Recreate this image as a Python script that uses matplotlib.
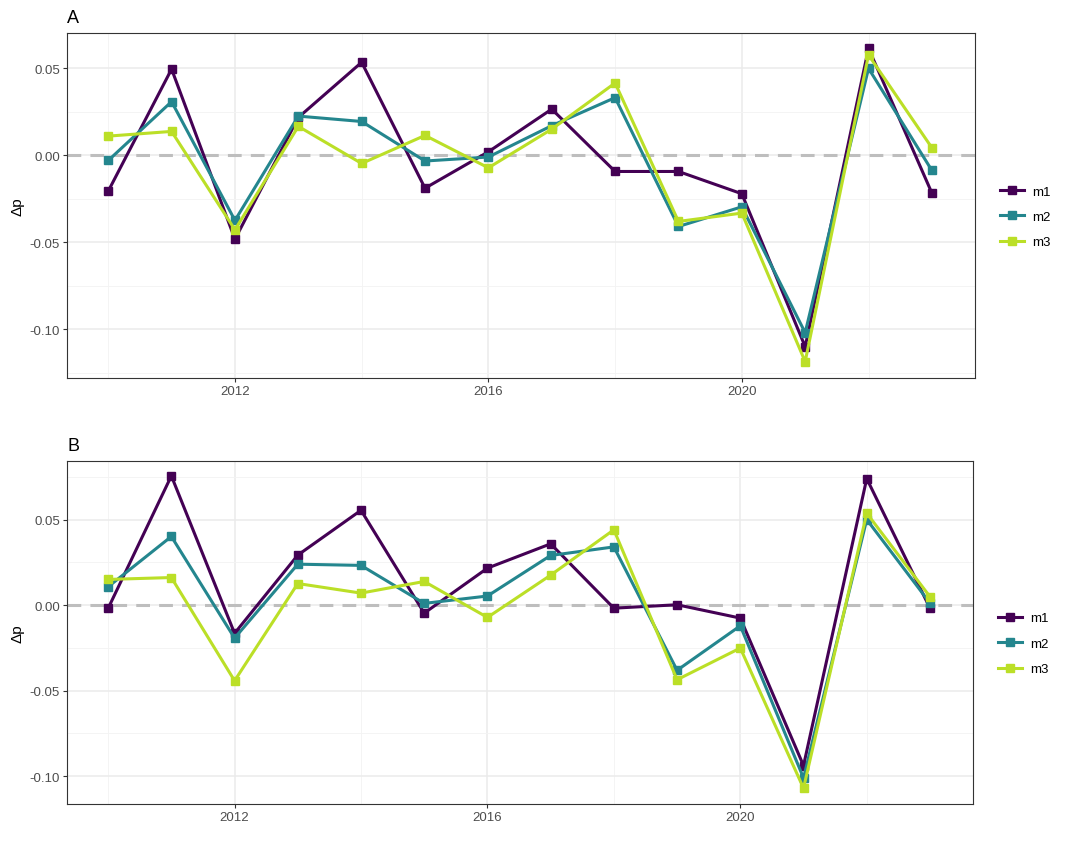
import matplotlib
matplotlib.use("Agg")
import matplotlib.pyplot as plt
from matplotlib.ticker import MultipleLocator, FixedLocator
import numpy as np

plt.rcParams['font.family'] = ['Liberation Sans', 'DejaVu Sans']

years = np.arange(2010, 2024)
series_names = ["m1", "m2", "m3"]
colors = ["#440154", "#24868E", "#BBDF27"]

# panel A
a_m1 = [-0.0207, 0.0494, -0.0483, 0.0216, 0.0533, -0.0190, 0.0019, 0.0264,
        -0.0094, -0.0094, -0.0222, -0.1100, 0.0613, -0.0218]
a_m2 = [-0.0031, 0.0307, -0.0375, 0.0224, 0.0193, -0.0034, -0.0011, 0.0169,
        0.0330, -0.0410, -0.0297, -0.1020, 0.0498, -0.0088]
a_m3 = [0.0109, 0.0136, -0.0429, 0.0165, -0.0048, 0.0113, -0.0073, 0.0149,
        0.0414, -0.0381, -0.0333, -0.1186, 0.0575, 0.0042]

# panel B
b_m1 = [-0.0019, 0.0755, -0.0165, 0.0292, 0.0554, -0.0047, 0.0216, 0.0358,
        -0.0018, 0.0002, -0.0076, -0.0938, 0.0739, -0.0018]
b_m2 = [0.0107, 0.0401, -0.0193, 0.0239, 0.0232, 0.0010, 0.0053, 0.0290,
        0.0340, -0.0381, -0.0121, -0.1010, 0.0500, 0.0012]
b_m3 = [0.0150, 0.0161, -0.0442, 0.0126, 0.0070, 0.0138, -0.0072, 0.0175,
        0.0440, -0.0436, -0.0251, -0.1070, 0.0537, 0.0049]

panels = [("A", [a_m1, a_m2, a_m3], (-0.128, 0.0701)),
          ("B", [b_m1, b_m2, b_m3], (-0.1162, 0.0842))]

fig = plt.figure(figsize=(10.66, 8.53), dpi=100)
boxes = [[0.0629, 0.5557, 0.8517, 0.4044],
         [0.0629, 0.0563, 0.8498, 0.4021]]

for (label, data, ylim), box in zip(panels, boxes):
    ax = fig.add_axes(box)
    ax.set_xlim(2009.35, 2023.68)
    ax.set_ylim(*ylim)
    ax.xaxis.set_major_locator(FixedLocator([2012, 2016, 2020]))
    ax.xaxis.set_minor_locator(FixedLocator([2010, 2014, 2018, 2022]))
    ax.yaxis.set_major_locator(MultipleLocator(0.05))
    ax.yaxis.set_minor_locator(MultipleLocator(0.025))
    ax.yaxis.set_major_formatter(matplotlib.ticker.FuncFormatter(lambda v, p: f"{v:.2f}"))
    ax.grid(which="major", color="#EBEBEB", lw=1.1)
    ax.grid(which="minor", color="#F3F3F3", lw=0.6)
    ax.set_axisbelow(True)
    ax.tick_params(which="major", length=3, width=0.8, color="#333333",
                   labelsize=9.5, labelcolor="#4D4D4D", pad=2)
    ax.tick_params(which="minor", length=0)
    for s in ax.spines.values():
        s.set_color("#333333")
        s.set_linewidth(0.8)
    ax.axhline(0, color="#BEBEBE", lw=2.2, ls=(0, (4.5, 3)), zorder=1.5)
    for name, vals, c in zip(series_names, data, colors):
        ax.plot(years, vals, color=c, lw=2.2, marker="s", ms=6,
                label=name, zorder=3)
    ax.set_ylabel("Δp", fontsize=11, labelpad=4)
    ax.set_title(label, loc="left", fontsize=13, pad=8)
    ax.legend(loc="center left", bbox_to_anchor=(1.015, 0.467), frameon=False,
              fontsize=9.5, handlelength=1.8, labelspacing=1.0, handletextpad=0.6)

fig.savefig("out.png", dpi=100)
